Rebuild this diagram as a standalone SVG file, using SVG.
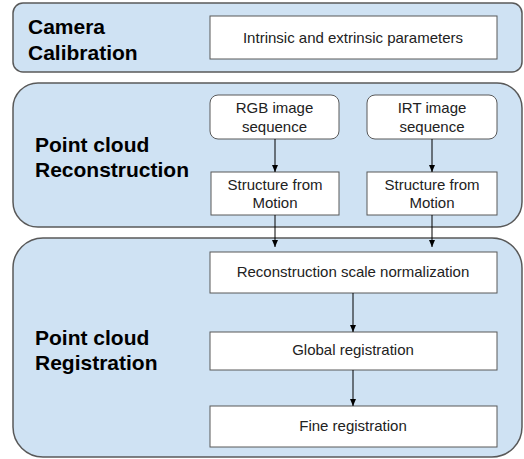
<svg xmlns="http://www.w3.org/2000/svg" width="524" height="459" viewBox="0 0 524 459">
<defs>
<marker id="ah" markerWidth="8" markerHeight="8" refX="7" refY="4" orient="auto" markerUnits="userSpaceOnUse">
<path d="M0,1 L7,4 L0,7 Z" fill="#000"/>
</marker>
<style>
.stage{fill:#cfe2f3;stroke:#595959;stroke-width:1.5}
.box{fill:#fff;stroke:#595959;stroke-width:1}
.big{font-family:"Liberation Sans",Arial,sans-serif;font-weight:bold;font-size:21px;fill:#000}
.sm{font-family:"Liberation Sans",Arial,sans-serif;font-size:15px;fill:#222;text-anchor:middle}
.con{stroke:#000;stroke-width:1;fill:none;marker-end:url(#ah)}
</style>
</defs>
<rect width="524" height="459" fill="#fff"/>
<g id="stage-calibration">
<rect class="stage" x="13" y="3" width="509" height="69" rx="10"/>
<text class="big" x="28" y="34">Camera</text>
<text class="big" x="28" y="60">Calibration</text>
</g>
<g id="stage-reconstruction">
<rect class="stage" x="13" y="83" width="509" height="144" rx="25"/>
<text class="big" x="35" y="152">Point cloud</text>
<text class="big" x="35" y="177">Reconstruction</text>
</g>
<g id="stage-registration">
<rect class="stage" x="13" y="238" width="509" height="219" rx="30"/>
<text class="big" x="35" y="345">Point cloud</text>
<text class="big" x="35" y="370">Registration</text>
</g>
<g id="intrinsic">
<rect class="box" x="210" y="16" width="287" height="43"/>
<text class="sm" x="353" y="43">Intrinsic and extrinsic parameters</text>
</g>
<g id="rgb">
<rect class="box" x="210" y="95" width="129" height="44" rx="8"/>
<text class="sm" x="274.5" y="113">RGB image</text>
<text class="sm" x="274.5" y="132">sequence</text>
</g>
<g id="irt">
<rect class="box" x="367" y="95" width="130" height="44" rx="8"/>
<text class="sm" x="432" y="113">IRT image</text>
<text class="sm" x="432" y="132">sequence</text>
</g>
<g id="sfm-rgb">
<rect class="box" x="211" y="172" width="128" height="43"/>
<text class="sm" x="275" y="190">Structure from</text>
<text class="sm" x="275" y="208">Motion</text>
</g>
<g id="sfm-irt">
<rect class="box" x="367" y="172" width="130" height="43"/>
<text class="sm" x="432" y="190">Structure from</text>
<text class="sm" x="432" y="208">Motion</text>
</g>
<g id="scale-norm">
<rect class="box" x="210" y="252" width="287" height="41"/>
<text class="sm" x="353" y="277">Reconstruction scale normalization</text>
</g>
<g id="global-reg">
<rect class="box" x="210" y="332" width="287" height="38"/>
<text class="sm" x="353" y="355">Global registration</text>
</g>
<g id="fine-reg">
<rect class="box" x="210" y="406" width="287" height="41"/>
<text class="sm" x="353" y="431">Fine registration</text>
</g>
<g id="connectors">
<line class="con" x1="275" y1="139" x2="275" y2="172"/>
<line class="con" x1="432" y1="139" x2="432" y2="172"/>
<line class="con" x1="275" y1="215" x2="275" y2="247"/>
<line class="con" x1="432" y1="215" x2="432" y2="247"/>
<line class="con" x1="353" y1="293" x2="353" y2="332"/>
<line class="con" x1="353" y1="370" x2="353" y2="406"/>
</g>
</svg>
